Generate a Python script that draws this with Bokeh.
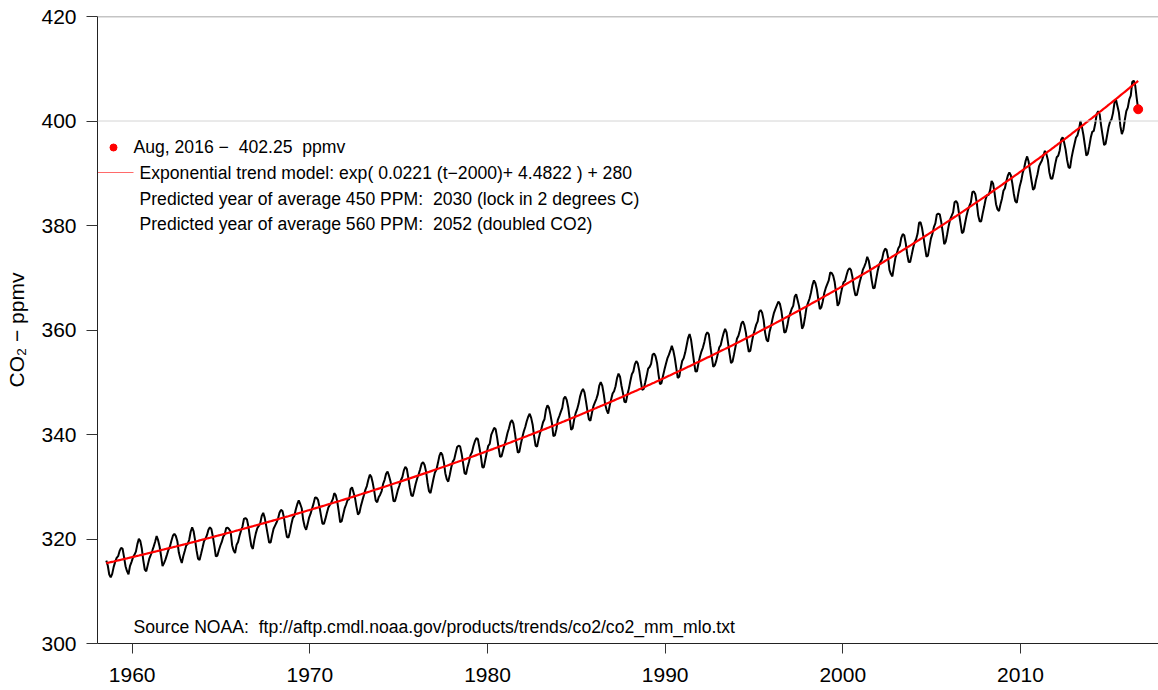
import numpy as np
from bokeh.plotting import figure
from bokeh.models import Span, Label, FixedTicker
from bokeh.embed import file_html
from bokeh.resources import INLINE

# ---------------- data (monthly mean CO2, Mauna Loa, ppmv) ----------------
start_year, start_month = 1958, 7

co2_1958_1969 = [
    315.86, 314.93, 313.20, 312.66, 313.33, 314.67,
    315.62, 316.38, 316.71, 317.72, 318.29, 318.15, 316.54, 314.80, 313.84, 313.26, 314.80, 315.58,
    316.43, 316.97, 317.58, 319.02, 320.03, 319.59, 318.18, 315.91, 314.16, 313.83, 315.00, 316.19,
    316.93, 317.70, 318.54, 319.48, 320.58, 319.77, 318.57, 316.79, 314.80, 315.38, 316.10, 317.01,
    317.94, 318.56, 319.68, 320.63, 321.01, 320.55, 319.58, 317.40, 316.26, 315.42, 316.69, 317.69,
    318.74, 319.08, 319.86, 321.39, 322.25, 321.47, 319.74, 317.77, 316.21, 315.99, 317.12, 318.31,
    319.57, 320.07, 320.73, 321.77, 322.25, 321.89, 320.44, 318.70, 316.70, 316.79, 317.79, 318.71,
    319.44, 320.44, 320.89, 322.13, 322.16, 321.87, 321.39, 318.81, 317.81, 317.30, 318.87, 319.42,
    320.62, 321.59, 322.39, 323.87, 324.01, 323.75, 322.39, 320.37, 318.64, 318.10, 319.79, 321.08,
    322.07, 322.50, 323.04, 324.42, 325.00, 324.09, 322.55, 320.92, 319.31, 319.31, 320.72, 321.96,
    322.57, 323.15, 323.89, 325.02, 325.57, 325.36, 324.14, 322.03, 320.41, 320.25, 321.31, 322.84,
    324.00, 324.42, 325.64, 326.66, 327.38, 326.70, 325.89, 323.67, 322.38, 321.78, 322.85, 324.11,
]
co2_1970s = [
    324.84, 325.82, 326.77, 327.97, 327.91, 327.50, 326.18, 324.53, 322.93, 322.90, 323.85, 324.96,
    326.01, 326.51, 327.01, 327.62, 328.76, 328.40, 327.20, 325.27, 323.20, 323.40, 324.63, 325.85,
    326.60, 327.47, 327.58, 329.56, 329.90, 328.92, 327.88, 326.16, 324.68, 325.04, 326.34, 327.39,
    328.37, 329.40, 330.14, 331.33, 332.31, 331.90, 330.70, 329.15, 327.35, 327.02, 327.99, 328.48,
    329.18, 330.55, 331.32, 332.48, 332.92, 332.08, 331.01, 329.23, 327.27, 327.21, 328.29, 329.41,
    330.23, 331.25, 331.87, 333.14, 333.80, 333.43, 331.73, 329.90, 328.40, 328.17, 329.32, 330.59,
    331.58, 332.39, 333.33, 334.41, 334.71, 334.17, 332.89, 330.77, 329.14, 328.78, 330.14, 331.52,
    332.75, 333.24, 334.53, 335.90, 336.57, 336.10, 334.76, 332.59, 331.42, 330.98, 332.24, 333.68,
    334.80, 335.22, 336.47, 337.59, 337.84, 337.72, 336.37, 334.51, 332.60, 332.38, 333.75, 334.78,
    336.05, 336.59, 337.79, 338.71, 339.30, 339.12, 337.56, 335.92, 333.75, 333.70, 335.12, 336.56,
]
co2_1980s = [
    337.84, 338.19, 339.91, 340.60, 341.29, 341.00, 339.39, 337.43, 335.72, 335.84, 336.93, 338.04,
    339.06, 340.30, 341.21, 342.33, 342.74, 342.08, 340.32, 338.26, 336.52, 336.68, 338.19, 339.44,
    340.57, 341.44, 342.53, 343.39, 343.96, 343.18, 341.88, 339.65, 337.81, 337.69, 339.09, 340.32,
    341.20, 342.35, 342.93, 344.77, 345.58, 345.14, 343.81, 342.21, 339.69, 339.82, 340.98, 342.82,
    343.52, 344.33, 345.11, 346.88, 347.25, 346.62, 345.22, 343.11, 340.90, 341.18, 342.80, 344.04,
    344.79, 345.82, 347.25, 348.17, 348.74, 348.07, 346.38, 344.51, 342.92, 342.62, 344.06, 345.38,
    346.11, 346.78, 347.68, 349.37, 350.03, 349.37, 347.76, 345.73, 344.68, 343.99, 345.48, 346.72,
    347.84, 348.29, 349.23, 350.80, 351.66, 351.07, 349.33, 347.92, 346.27, 346.18, 347.64, 348.78,
    350.25, 351.54, 352.05, 353.41, 354.04, 353.62, 352.22, 350.27, 348.55, 348.72, 349.91, 351.18,
    352.60, 352.92, 353.53, 355.26, 355.52, 354.97, 353.75, 351.52, 349.64, 349.83, 351.14, 352.37,
]
co2_1990s = [
    353.50, 354.55, 355.23, 356.04, 357.00, 356.07, 354.67, 352.76, 350.82, 351.04, 352.69, 354.07,
    354.59, 355.63, 357.03, 358.48, 359.22, 358.12, 356.06, 353.92, 352.05, 352.11, 353.64, 354.89,
    355.88, 356.63, 357.72, 359.07, 359.58, 359.17, 356.94, 354.92, 352.94, 353.23, 354.09, 355.33,
    356.63, 357.10, 358.32, 359.41, 360.23, 359.55, 357.53, 355.48, 353.67, 353.95, 355.30, 356.78,
    358.34, 358.89, 359.95, 361.25, 361.67, 360.94, 359.55, 357.49, 355.84, 356.00, 357.59, 359.05,
    359.98, 361.03, 361.66, 363.48, 363.82, 363.30, 361.94, 359.50, 358.11, 357.80, 359.61, 360.74,
    362.09, 363.29, 364.06, 364.76, 365.45, 365.01, 363.70, 361.54, 359.51, 359.65, 360.80, 362.38,
    363.23, 364.06, 364.61, 366.40, 366.84, 365.68, 364.52, 362.57, 360.24, 360.83, 362.49, 364.34,
    365.18, 365.98, 367.13, 368.61, 369.49, 368.95, 367.74, 365.79, 364.01, 364.35, 365.52, 367.08,
    368.05, 368.77, 369.49, 371.04, 370.89, 370.38, 369.18, 366.99, 364.63, 365.13, 366.67, 368.01,
]
co2_2000s = [
    369.15, 369.39, 370.47, 371.44, 371.82, 371.50, 370.13, 367.97, 366.66, 366.68, 367.99, 369.29,
    370.28, 371.50, 372.12, 372.87, 374.02, 373.30, 371.62, 369.55, 367.96, 368.09, 369.68, 371.24,
    372.44, 373.08, 373.52, 374.85, 375.55, 375.40, 374.02, 371.49, 370.71, 370.25, 372.08, 373.78,
    374.68, 375.63, 376.11, 377.65, 378.35, 378.13, 376.62, 374.50, 372.99, 373.01, 374.35, 375.70,
    376.79, 377.37, 378.41, 380.52, 380.63, 379.57, 377.79, 375.86, 374.06, 374.24, 375.86, 377.48,
    378.37, 379.69, 380.41, 382.10, 382.28, 382.13, 380.66, 378.71, 376.42, 376.88, 378.32, 379.92,
    381.18, 381.83, 382.53, 384.46, 384.69, 384.19, 382.30, 380.46, 378.53, 378.80, 380.34, 381.77,
    382.91, 383.74, 384.44, 386.37, 386.54, 385.98, 384.35, 381.85, 380.75, 380.83, 382.32, 383.62,
    385.07, 385.84, 385.83, 386.77, 388.51, 388.05, 386.25, 384.08, 383.09, 382.78, 384.01, 385.11,
    386.65, 387.12, 388.52, 389.57, 390.16, 389.62, 388.07, 386.08, 384.65, 384.33, 386.05, 387.49,
]
co2_2010s = [
    388.55, 390.07, 391.01, 392.38, 393.22, 392.24, 390.33, 388.52, 386.84, 387.16, 388.67, 389.81,
    391.30, 391.92, 392.45, 393.37, 394.28, 393.69, 392.59, 390.21, 389.00, 388.93, 390.24, 391.80,
    393.07, 393.35, 394.36, 396.43, 396.87, 395.88, 394.52, 392.54, 391.13, 391.01, 392.95, 394.34,
    395.61, 396.85, 397.26, 398.35, 399.98, 398.87, 397.37, 395.41, 393.39, 393.70, 395.19, 396.82,
    397.93, 398.10, 399.47, 401.33, 401.88, 401.31, 399.07, 397.21, 395.40, 395.65, 397.23, 398.79,
    399.85, 400.31, 401.51, 403.45, 404.10, 402.88, 401.61, 399.00, 397.50, 398.28, 400.24, 401.89,
    402.56, 404.12, 404.87, 407.45, 407.72, 406.83, 404.41, 402.25,
]

# exponential trend model printed on the chart
trend_rate = 0.0221
trend_offset = 4.4822
trend_base = 280.0
trend_ref_year = 2000

x_ticks = [1960, 1970, 1980, 1990, 2000, 2010]
y_ticks = [300, 320, 340, 360, 380, 400, 420]

NB2 = " \u00a0"  # double space that survives SVG whitespace collapsing
legend_latest = "Aug, 2016 \u2212" + NB2 + "402.25" + NB2 + "ppmv"
legend_trend = "Exponential trend model: exp( 0.0221 (t\u22122000)+ 4.4822 ) + 280"
legend_450 = "Predicted year of average 450 PPM:" + NB2 + "2030 (lock in 2 degrees C)"
legend_560 = "Predicted year of average 560 PPM:" + NB2 + "2052 (doubled CO2)"
source_text = "Source NOAA:" + NB2 + "ftp://aftp.cmdl.noaa.gov/products/trends/co2/co2_mm_mlo.txt"
y_label = "CO\u2082 \u2212 ppmv"

# ---------------- build series ----------------
co2 = np.array(co2_1958_1969 + co2_1970s + co2_1980s + co2_1990s + co2_2000s + co2_2010s)
idx = np.arange(len(co2))
t = start_year + (start_month - 1 + idx + 0.5) / 12.0
trend = trend_base + np.exp(trend_rate * (t - trend_ref_year) + trend_offset)

# ---------------- layout ----------------
W, H = 1158, 690
LEFT, TOP, BOTTOM, RIGHT = 97, 16, 47, 0
X0, X1 = 1958.047, 2017.77
Y0, Y1 = 300, 420
FW = W - LEFT - RIGHT
FH = H - TOP - BOTTOM

def dx(px):
    return X0 + (px - LEFT) / FW * (X1 - X0)

def dy(py):
    return Y1 - (py - TOP) / FH * (Y1 - Y0)

FONT = "Liberation Sans"
TXT_SIZE = "17.6px"

p = figure(width=W, height=H, x_range=(X0, X1), y_range=(Y0, Y1),
           output_backend="svg", toolbar_location=None,
           min_border_left=LEFT, min_border_right=RIGHT,
           min_border_top=TOP, min_border_bottom=BOTTOM)
p.outline_line_color = None
p.xgrid.visible = False
p.ygrid.visible = False
p.background_fill_color = "white"
p.border_fill_color = "white"

# reference lines
p.add_layout(Span(location=400, dimension="width", line_color="#d4d4d4", line_width=1))
p.add_layout(Span(location=420, dimension="width", line_color="#8a8a8a", line_width=1.5))

# data
p.line(t, co2, line_color="black", line_width=2)
p.line(t, trend, line_color="#ff0000", line_width=2.2)
p.scatter([t[-1]], [co2[-1]], size=9, color="#ff0000")

# axes
for ax in (p.xaxis[0], p.yaxis[0]):
    ax.major_tick_in = 0
    ax.minor_tick_line_color = None
    ax.axis_line_color = "#222222"
    ax.major_tick_line_color = "#333333"
    ax.major_label_text_font = FONT
    ax.major_label_text_font_size = "21px"
    ax.major_label_text_color = "black"

p.xaxis.ticker = FixedTicker(ticks=x_ticks)
p.xaxis.major_tick_out = 10
p.xaxis.major_label_standoff = 14

p.yaxis.ticker = FixedTicker(ticks=y_ticks)
p.yaxis.major_tick_out = 11
p.yaxis.major_label_standoff = 10
p.yaxis.axis_label = y_label
p.yaxis.axis_label_text_font = FONT
p.yaxis.axis_label_text_font_size = "21px"
p.yaxis.axis_label_text_font_style = "normal"
p.yaxis.axis_label_text_color = "black"
p.yaxis.axis_label_standoff = 10

# legend (drawn manually)
p.scatter([dx(113)], [dy(147)], size=7, color="#ff0000")
p.line([dx(97), dx(133)], [dy(172), dy(172)], line_color="#ff6a6a", line_width=1)

def add_text(px, py, txt):
    p.add_layout(Label(x=dx(px), y=dy(py), text=txt, text_font=FONT,
                       text_font_size=TXT_SIZE, text_baseline="middle",
                       text_align="left", text_color="black"))

add_text(133, 146, legend_latest)
add_text(139, 172, legend_trend)
add_text(139, 198, legend_450)
add_text(139, 223, legend_560)
add_text(133, 626, source_text)

open("out.html", "w").write(file_html(p, INLINE))
